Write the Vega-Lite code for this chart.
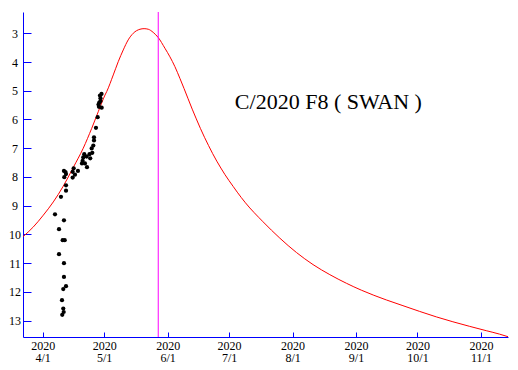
{
  "$schema": "https://vega.github.io/schema/vega-lite/v6.json",
  "width": 485,
  "height": 325,
  "autosize": "none",
  "padding": {"left": 23, "top": 12, "right": 10, "bottom": 33},
  "background": "white",
  "config": {
    "view": {"stroke": null},
    "axis": {"grid": false, "title": null, "labelOverlap": false, "labelFlush": false, "domainColor": "#0000ff", "domainWidth": 1, "tickColor": "#0000ff", "tickWidth": 1, "labelFont": "Liberation Serif", "labelFontSize": 12, "labelColor": "#000000"},
    "axisX": {"tickSize": -5, "labelPadding": 8, "labelBaseline": "top", "labelLineHeight": 12.5},
    "axisY": {"tickSize": -8, "labelPadding": 16.5, "labelAlign": "center", "labelBaseline": "middle"}
  },
  "datasets": {
    "curve": [
      {"date": "2020-03-22T09:00Z", "mag": 10.08},
      {"date": "2020-03-27T10:00Z", "mag": 9.74},
      {"date": "2020-04-01T07:00Z", "mag": 9.33},
      {"date": "2020-04-06T04:00Z", "mag": 8.87},
      {"date": "2020-04-11T01:00Z", "mag": 8.32},
      {"date": "2020-04-15T22:00Z", "mag": 7.67},
      {"date": "2020-04-20T19:00Z", "mag": 7.0},
      {"date": "2020-04-24T22:00Z", "mag": 6.31},
      {"date": "2020-04-28T03:00Z", "mag": 5.73},
      {"date": "2020-05-01T10:00Z", "mag": 5.15},
      {"date": "2020-05-02T06:00Z", "mag": 5.03},
      {"date": "2020-05-05T11:00Z", "mag": 4.45},
      {"date": "2020-05-07T21:00Z", "mag": 3.99},
      {"date": "2020-05-10T08:00Z", "mag": 3.58},
      {"date": "2020-05-12T18:00Z", "mag": 3.23},
      {"date": "2020-05-15T05:00Z", "mag": 3.0},
      {"date": "2020-05-18T12:00Z", "mag": 2.86},
      {"date": "2020-05-20T12:00Z", "mag": 2.84},
      {"date": "2020-05-22T13:00Z", "mag": 2.86},
      {"date": "2020-05-24T23:00Z", "mag": 2.97},
      {"date": "2020-05-27T10:00Z", "mag": 3.15},
      {"date": "2020-05-30T16:00Z", "mag": 3.52},
      {"date": "2020-06-02T03:00Z", "mag": 3.82},
      {"date": "2020-06-04T13:00Z", "mag": 4.16},
      {"date": "2020-06-07T00:00Z", "mag": 4.57},
      {"date": "2020-06-09T00:00Z", "mag": 4.92},
      {"date": "2020-06-11T00:00Z", "mag": 5.28},
      {"date": "2020-06-13T00:00Z", "mag": 5.64},
      {"date": "2020-06-15T00:00Z", "mag": 5.98},
      {"date": "2020-06-17T00:00Z", "mag": 6.31},
      {"date": "2020-06-19T00:00Z", "mag": 6.62},
      {"date": "2020-06-21T00:00Z", "mag": 6.91},
      {"date": "2020-06-23T00:00Z", "mag": 7.19},
      {"date": "2020-06-25T00:00Z", "mag": 7.45},
      {"date": "2020-06-27T00:00Z", "mag": 7.69},
      {"date": "2020-06-29T00:00Z", "mag": 7.92},
      {"date": "2020-07-01T00:00Z", "mag": 8.13},
      {"date": "2020-07-03T00:00Z", "mag": 8.33},
      {"date": "2020-07-05T00:00Z", "mag": 8.53},
      {"date": "2020-07-07T00:00Z", "mag": 8.72},
      {"date": "2020-07-09T00:00Z", "mag": 8.90},
      {"date": "2020-07-17T14:00Z", "mag": 9.56},
      {"date": "2020-07-25T19:00Z", "mag": 10.13},
      {"date": "2020-08-02T22:00Z", "mag": 10.63},
      {"date": "2020-08-11T00:00Z", "mag": 11.05},
      {"date": "2020-08-19T05:00Z", "mag": 11.40},
      {"date": "2020-08-27T07:00Z", "mag": 11.70},
      {"date": "2020-09-03T14:00Z", "mag": 11.94},
      {"date": "2020-09-15T19:00Z", "mag": 12.28},
      {"date": "2020-09-23T22:00Z", "mag": 12.48},
      {"date": "2020-10-02T02:00Z", "mag": 12.68},
      {"date": "2020-10-10T05:00Z", "mag": 12.87},
      {"date": "2020-10-18T07:00Z", "mag": 13.04},
      {"date": "2020-10-26T12:00Z", "mag": 13.20},
      {"date": "2020-11-03T14:00Z", "mag": 13.35},
      {"date": "2020-11-10T02:00Z", "mag": 13.47},
      {"date": "2020-11-14T05:00Z", "mag": 13.56}
    ],
    "obs": [
      {"date": "2020-04-07T00:00Z", "mag": 9.30},
      {"date": "2020-04-11T09:00Z", "mag": 9.51},
      {"date": "2020-04-08T23:00Z", "mag": 9.82},
      {"date": "2020-04-10T18:00Z", "mag": 10.20},
      {"date": "2020-04-11T18:00Z", "mag": 10.20},
      {"date": "2020-04-08T23:00Z", "mag": 10.69},
      {"date": "2020-04-11T09:00Z", "mag": 11.00},
      {"date": "2020-04-11T09:00Z", "mag": 11.48},
      {"date": "2020-04-12T09:00Z", "mag": 11.80},
      {"date": "2020-04-11T01:00Z", "mag": 11.90},
      {"date": "2020-04-10T10:00Z", "mag": 12.29},
      {"date": "2020-04-11T01:00Z", "mag": 12.58},
      {"date": "2020-04-11T06:00Z", "mag": 12.70},
      {"date": "2020-04-10T13:00Z", "mag": 12.80},
      {"date": "2020-04-09T22:00Z", "mag": 8.69},
      {"date": "2020-04-12T09:00Z", "mag": 8.29},
      {"date": "2020-04-12T09:00Z", "mag": 8.48},
      {"date": "2020-04-11T09:00Z", "mag": 7.79},
      {"date": "2020-04-12T09:00Z", "mag": 7.90},
      {"date": "2020-04-11T13:00Z", "mag": 8.01},
      {"date": "2020-04-12T03:00Z", "mag": 7.83},
      {"date": "2020-04-16T03:00Z", "mag": 7.70},
      {"date": "2020-04-15T15:00Z", "mag": 7.82},
      {"date": "2020-04-16T18:00Z", "mag": 7.92},
      {"date": "2020-04-15T15:00Z", "mag": 8.02},
      {"date": "2020-04-18T05:00Z", "mag": 7.79},
      {"date": "2020-04-21T07:00Z", "mag": 7.21},
      {"date": "2020-04-20T19:00Z", "mag": 7.32},
      {"date": "2020-04-20T12:00Z", "mag": 7.44},
      {"date": "2020-04-20T04:00Z", "mag": 7.53},
      {"date": "2020-04-21T15:00Z", "mag": 7.53},
      {"date": "2020-04-22T15:00Z", "mag": 7.66},
      {"date": "2020-04-22T11:00Z", "mag": 7.29},
      {"date": "2020-04-23T20:00Z", "mag": 7.21},
      {"date": "2020-04-24T05:00Z", "mag": 7.35},
      {"date": "2020-04-25T05:00Z", "mag": 7.16},
      {"date": "2020-04-24T22:00Z", "mag": 7.01},
      {"date": "2020-04-25T17:00Z", "mag": 6.91},
      {"date": "2020-04-26T01:00Z", "mag": 6.62},
      {"date": "2020-04-26T01:00Z", "mag": 6.73},
      {"date": "2020-04-27T00:00Z", "mag": 6.29},
      {"date": "2020-04-27T20:00Z", "mag": 5.92},
      {"date": "2020-04-28T11:00Z", "mag": 5.56},
      {"date": "2020-04-28T06:00Z", "mag": 5.48},
      {"date": "2020-04-28T15:00Z", "mag": 5.41},
      {"date": "2020-04-29T05:00Z", "mag": 5.26},
      {"date": "2020-04-28T23:00Z", "mag": 5.17},
      {"date": "2020-04-29T17:00Z", "mag": 5.11},
      {"date": "2020-04-29T19:00Z", "mag": 5.59},
      {"date": "2020-04-29T05:00Z", "mag": 5.36}
    ],
    "perihelion": [{"date": "2020-05-27T10:00Z"}],
    "label": [{"date": "2020-07-03T20:00Z", "mag": 5.64, "text": "C/2020 F8 ( SWAN )"}]
  },
  "layer": [
    {
      "data": {"name": "curve"},
      "mark": {"type": "line", "color": "#ff0000", "strokeWidth": 1, "clip": true, "interpolate": "monotone"},
      "encoding": {
        "x": {
          "field": "date", "type": "temporal", "title": null,
          "scale": {"type": "utc", "domain": ["2020-03-22T09:00Z", "2020-11-14T05:00Z"], "nice": false},
          "axis": {
            "values": [
              {"year": 2020, "month": 4, "date": 1, "utc": true},
              {"year": 2020, "month": 5, "date": 1, "utc": true},
              {"year": 2020, "month": 6, "date": 1, "utc": true},
              {"year": 2020, "month": 7, "date": 1, "utc": true},
              {"year": 2020, "month": 8, "date": 1, "utc": true},
              {"year": 2020, "month": 9, "date": 1, "utc": true},
              {"year": 2020, "month": 10, "date": 1, "utc": true},
              {"year": 2020, "month": 11, "date": 1, "utc": true}
            ],
            "labelExpr": "['2020', utcFormat(datum.value, '%-m/%-d')]"
          }
        },
        "y": {
          "field": "mag", "type": "quantitative", "title": null,
          "scale": {"domain": [2.26, 13.57], "reverse": true, "zero": false, "nice": false},
          "axis": {"values": [3, 4, 5, 6, 7, 8, 9, 10, 11, 12, 13], "labelOverlap": false}
        }
      }
    },
    {
      "data": {"name": "perihelion"},
      "mark": {"type": "rule", "color": "#ff00ff", "strokeWidth": 1},
      "encoding": {
        "x": {"field": "date", "type": "temporal", "title": null, "scale": {"type": "utc", "domain": ["2020-03-22T09:00Z", "2020-11-14T05:00Z"], "nice": false}}
      }
    },
    {
      "data": {"name": "obs"},
      "mark": {"type": "circle", "color": "#000000", "opacity": 1, "size": 18},
      "encoding": {
        "x": {"field": "date", "type": "temporal", "title": null, "scale": {"type": "utc", "domain": ["2020-03-22T09:00Z", "2020-11-14T05:00Z"], "nice": false}},
        "y": {"field": "mag", "type": "quantitative", "title": null, "scale": {"domain": [2.26, 13.57], "reverse": true, "zero": false, "nice": false}, "axis": {"values": [3, 4, 5, 6, 7, 8, 9, 10, 11, 12, 13], "labelOverlap": false}}
      }
    },
    {
      "data": {"name": "label"},
      "mark": {"type": "text", "font": "Liberation Serif", "fontSize": 22, "color": "#000000", "align": "left", "baseline": "alphabetic"},
      "encoding": {
        "x": {"field": "date", "type": "temporal", "title": null, "scale": {"type": "utc", "domain": ["2020-03-22T09:00Z", "2020-11-14T05:00Z"], "nice": false}},
        "y": {"field": "mag", "type": "quantitative", "title": null, "scale": {"domain": [2.26, 13.57], "reverse": true, "zero": false, "nice": false}, "axis": {"values": [3, 4, 5, 6, 7, 8, 9, 10, 11, 12, 13], "labelOverlap": false}},
        "text": {"field": "text"}
      }
    }
  ]
}
